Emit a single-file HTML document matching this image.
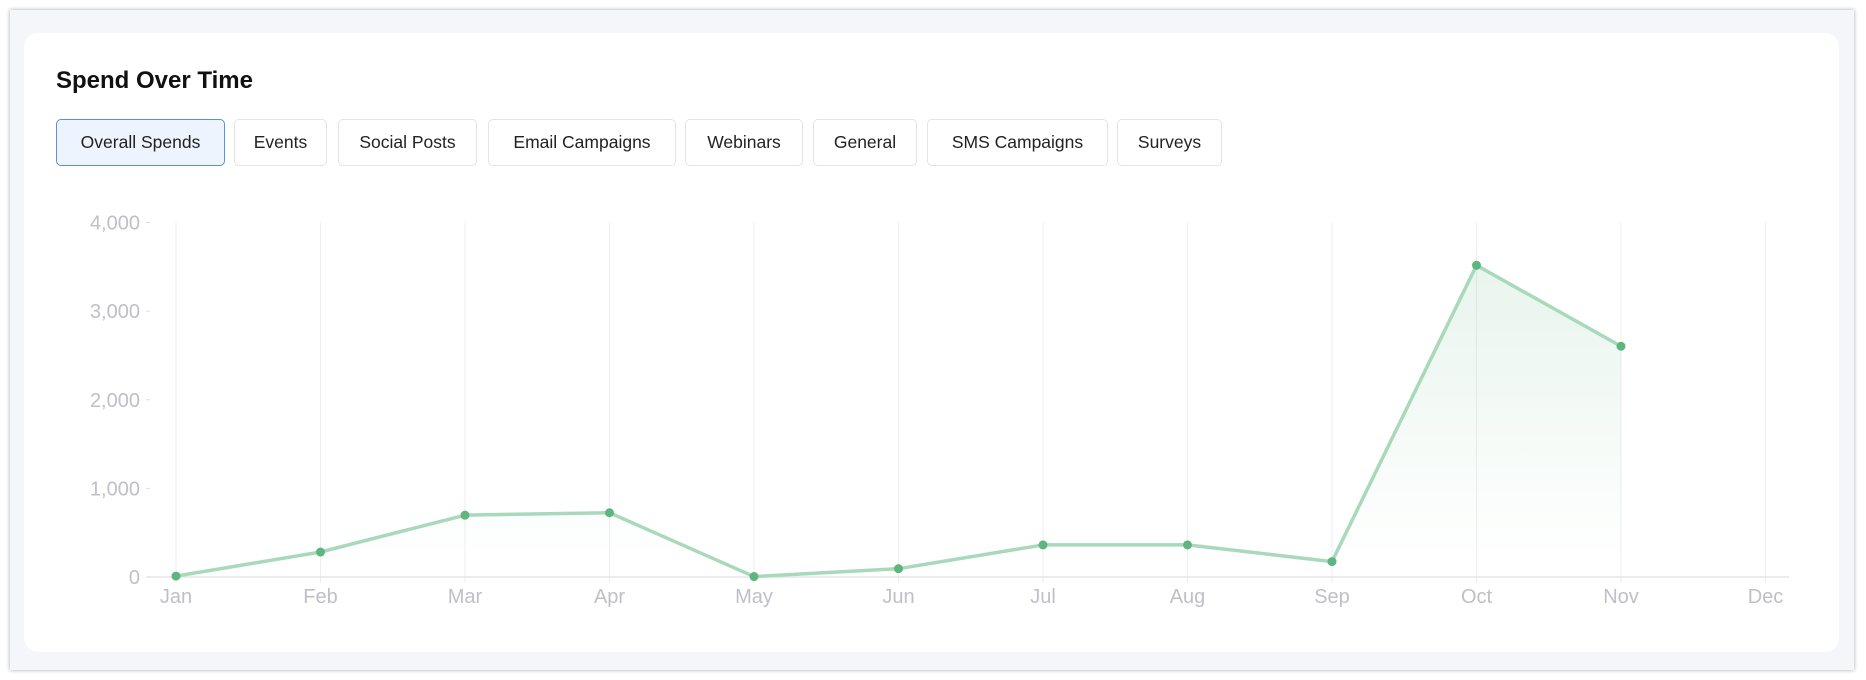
<!DOCTYPE html>
<html><head><meta charset="utf-8"><style>
body{margin:0;width:1866px;height:680px;background:#fff;font-family:"Liberation Sans",sans-serif;overflow:hidden;position:relative}
.frame{position:absolute;left:10px;top:10px;width:1844px;height:660px;background:#f4f6fa;box-shadow:0 0 4px rgba(0,0,0,.35)}
.card{position:absolute;left:14px;top:23px;width:1815px;height:619px;background:#fff;border-radius:14px}
.title{position:absolute;left:32px;top:34px;font-size:24px;font-weight:600;color:#111;margin:0}
.tab{position:absolute;top:86px;height:47px;box-sizing:border-box;border:1px solid #e2e4ea;border-radius:5px;background:#fff;font-size:17.5px;color:#222;display:flex;align-items:center;justify-content:center}
.tab.active{background:#eef4fe;border-color:#5b8fe0}
svg{position:absolute;left:0;top:0}
</style></head><body>
<div class="frame">
<div class="card">
<h2 class="title">Spend Over Time</h2>
<div class="tab active" style="left:32px;width:169px">Overall Spends</div>
<div class="tab" style="left:210px;width:93px">Events</div>
<div class="tab" style="left:314px;width:139px">Social Posts</div>
<div class="tab" style="left:464px;width:188px">Email Campaigns</div>
<div class="tab" style="left:661px;width:118px">Webinars</div>
<div class="tab" style="left:789px;width:104px">General</div>
<div class="tab" style="left:903px;width:181px">SMS Campaigns</div>
<div class="tab" style="left:1093px;width:105px">Surveys</div>
</div></div>
<svg id="chart" width="1866" height="680">
<defs><linearGradient id="g" gradientUnits="userSpaceOnUse" x1="0" y1="222" x2="0" y2="560">
<stop offset="0" stop-color="#5db57f" stop-opacity="0.16"/><stop offset="1" stop-color="#5db57f" stop-opacity="0"/></linearGradient></defs>
</svg>
<script>
const categories=["Jan","Feb","Mar","Apr","May","Jun","Jul","Aug","Sep","Oct","Nov","Dec"];
const spendValues=[10,282,698,725,5,94,362,362,174,3517,2604,null];
const yTicks=[0,1000,2000,3000,4000];
const yTickLabels=["0","1,000","2,000","3,000","4,000"];
const svg=document.getElementById('chart');
const NS='http://www.w3.org/2000/svg';
const x0=176,dx=144.5,yBase=577,yTop=222.5,yMax=4000;
const X=i=>x0+i*dx, Y=v=>yBase-(v/yMax)*(yBase-yTop);
function mk(t,a){const e=document.createElementNS(NS,t);for(const k in a)e.setAttribute(k,a[k]);svg.appendChild(e);return e;}
categories.forEach((c,i)=>{
 const g=mk('line',{x1:X(i),x2:X(i),y1:yTop,y2:yBase+6,stroke:'#eeeef0','stroke-width':1});
 
 
 const t=mk('text',{x:X(i),y:603,'text-anchor':'middle','font-size':20,fill:'#c0bfc8','font-family':'Liberation Sans, sans-serif'});
 t.textContent=c;
 
 
});
const ax=mk('line',{x1:148,x2:1789,y1:yBase,y2:yBase,stroke:'#e6e6ea','stroke-width':1.5});


yTicks.forEach((v,i)=>{
 const t=mk('text',{x:140,y:Y(v)+7,'text-anchor':'end','font-size':20,fill:'#c0bfc8','font-family':'Liberation Sans, sans-serif'});
 t.textContent=yTickLabels[i];
 
 
 const tk=mk('line',{x1:146,x2:150,y1:Y(v),y2:Y(v),stroke:'#ddd'});
 
 
});
const pts=[];spendValues.forEach((v,i)=>{if(v!==null)pts.push([X(i),Y(v)]);});
const area=mk('path',{d:'M'+pts[0][0]+','+yBase+' L'+pts.map(p=>p.join(',')).join(' L')+' L'+pts[pts.length-1][0]+','+yBase+' Z',fill:'url(#g)'});


const line=mk('polyline',{points:pts.map(p=>p.join(',')).join(' '),fill:'none',stroke:'#a9d9bb','stroke-width':3.5,'stroke-linejoin':'round'});


spendValues.forEach((v,i)=>{if(v===null)return;
 const c=mk('circle',{cx:X(i),cy:Y(v),r:4.5,fill:'#5db57f'});
 
 
});
</script>
</body></html>
